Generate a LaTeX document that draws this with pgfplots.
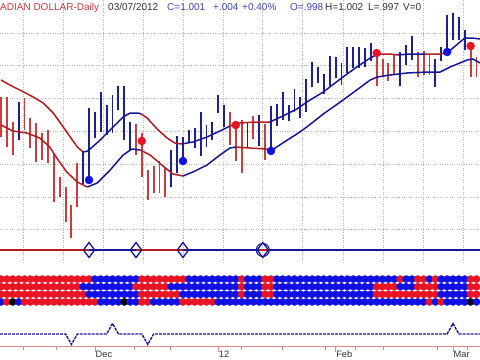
\documentclass[border=0pt]{standalone}
\usepackage{fontspec}
\setmainfont{Liberation Sans}
\usepackage{pgfplots}
\usepackage{pgfplotstable}
\pgfplotsset{compat=1.18}
\definecolor{barred}{RGB}{200,62,62}
\definecolor{barblue}{RGB}{32,32,140}
\definecolor{bandred}{RGB}{178,28,34}
\definecolor{bandblue}{RGB}{22,22,150}
\definecolor{dotred}{RGB}{232,20,36}
\definecolor{dotblue}{RGB}{16,16,226}
\definecolor{titlered}{RGB}{200,56,64}
\definecolor{infoblue}{RGB}{60,70,180}
\definecolor{infogray}{RGB}{50,50,60}
\definecolor{gridgray}{RGB}{185,185,185}
\definecolor{axispink}{RGB}{214,140,140}

\pgfplotstableread{
i a b c d
0 r r r b
1 r r r r
2 r r r k
3 r r r b
4 r r r r
5 r r r r
6 r r r r
7 r r r r
8 r r r r
9 r r r r
10 r r r r
11 r r r r
12 r r r r
13 r r r r
14 r b r r
15 r b b r
16 b b b r
17 b b b b
18 b b b b
19 b b b b
20 b b b b
21 b b b k
22 b b b b
23 b r b b
24 r r r r
25 r r r r
26 r r r b
27 r r r b
28 r r r b
29 r b r b
30 r b r b
31 r b b r
32 b b b r
33 b b b r
34 b b b r
35 b b b r
36 b b b r
37 b b b b
38 b b b b
39 b b b b
40 b b b b
41 r r r b
42 b b b b
43 b b b b
44 b b b b
45 r r r b
46 r r r b
47 b b b b
48 b b b b
49 b b b b
50 b b b b
51 b b b b
52 b b b b
53 b b b b
54 b b b b
55 b b b b
56 b b b b
57 b b b b
58 b b b b
59 b b b b
60 b b b b
61 b b b b
62 b b b b
63 b b b b
64 b r r b
65 b r r b
66 b r r b
67 b r r b
68 r b r b
69 b b r b
70 b b r b
71 r r r b
72 r r r b
73 b r r r
74 r r r b
75 b b b r
76 b b b b
77 b b b b
78 b b b b
79 b b b b
80 r r r k
81 r r r b
}\rows

\pgfplotsset{
  panel/.style={scale only axis, width=480bp, xmin=-0.17, xmax=81.6, anchor=south west,
    axis line style={draw=none}, tick style={draw=none}, xticklabels={}, yticklabels={},
    xtick={3.75,10.6,17.4,24.2,31,37.8,44.6,51.4,58.3,65.1,71.9,78.7},
    xmajorgrids, major grid style={gridgray, dotted, line width=0.7bp}},
  dotrow/.style={scatter, only marks, scatter src=explicit symbolic, mark size=3.6bp,
    scatter/classes={r={mark=*,draw=dotred,fill=dotred}, b={mark=*,draw=dotblue,fill=dotblue}, k={mark=*,draw=black,fill=black}}},
  hlbar/.style={#1, line width=1.9bp, unbounded coords=jump, mark=none},
}

\begin{document}
\begin{tikzpicture}
\useasboundingbox (0bp,0bp) rectangle (480bp,360bp);

% price panel
\begin{axis}[panel, at={(0bp,120bp)}, height=240bp, ymin=0.956, ymax=1.016,
  ytick={0.95855,0.96675,0.97495,0.98315,0.99135,0.99955,1.00775}, ymajorgrids]
% red high-low bars: (day, low) (day, high)
\addplot[hlbar=barred] coordinates {
(0,0.98175)(0,0.99175)(0,nan) (1,0.97925)(1,0.99175)(1,nan) (2,0.97725)(2,0.9855)(2,nan)
(4,0.9835)(4,0.9915)(4,nan) (5,0.979)(5,0.9865)(5,nan) (6,0.9755)(6,0.98525)(6,nan)
(7,0.976)(7,0.98275)(7,nan) (8,0.97525)(8,0.9835)(8,nan) (9,0.9655)(9,0.97775)(9,nan)
(10,0.96675)(10,0.97175)(10,nan) (11,0.9605)(11,0.96925)(11,nan) (12,0.9565)(12,0.96475)(12,nan)
(13,0.96425)(13,0.97525)(13,nan) (23,0.97725)(23,0.985)(23,nan) (24,0.97175)(24,0.98275)(24,nan)
(25,0.966)(25,0.9735)(25,nan) (26,0.96775)(26,0.9745)(26,nan) (27,0.96775)(27,0.97575)(27,nan)
(28,0.96675)(28,0.974)(28,nan) (39,0.97975)(39,0.988)(39,nan) (40,0.97575)(40,0.98575)(40,nan)
(41,0.97275)(41,0.986)(41,nan) (43,0.98125)(43,0.987)(43,nan) (45,0.976)(45,0.985)(45,nan)
(64,0.9945)(64,1.00225)(64,nan) (65,0.99675)(65,1.00125)(65,nan) (66,0.99575)(66,1.00025)(66,nan)
(67,0.99725)(67,1.00225)(67,nan) (71,0.99675)(71,1.003)(71,nan) (72,0.99725)(72,1.00325)(72,nan)
(73,0.99725)(73,1.0025)(73,nan) (80,0.99675)(80,1.00425)(80,nan) (81,0.99675)(81,1.00175)
};
% blue high-low bars
\addplot[hlbar=barblue] coordinates {
(3,0.981)(3,0.9905)(3,nan) (14,0.970)(14,0.978)(14,nan) (15,0.9705)(15,0.989)(15,nan)
(16,0.9815)(16,0.988)(16,nan) (17,0.983)(17,0.993)(17,nan) (18,0.98225)(18,0.98975)(18,nan)
(19,0.98275)(19,0.99225)(19,nan) (20,0.9885)(20,0.9945)(20,nan) (21,0.981)(21,0.9945)(21,nan)
(22,0.9785)(22,0.9855)(22,nan) (29,0.96925)(29,0.9785)(29,nan) (30,0.97275)(30,0.982)(30,nan)
(31,0.97475)(31,0.98175)(31,nan) (32,0.98025)(32,0.9835)(32,nan) (33,0.979)(33,0.984)(33,nan)
(34,0.977)(34,0.988)(34,nan) (35,0.97925)(35,0.98475)(35,nan) (36,0.981)(36,0.9855)(36,nan)
(37,0.98775)(37,0.99225)(37,nan) (38,0.98425)(38,0.98975)(38,nan) (42,0.979)(42,0.9855)(42,nan)
(44,0.9795)(44,0.98725)(44,nan) (46,0.97825)(46,0.9895)(46,nan) (47,0.9845)(47,0.990)(47,nan)
(48,0.986)(48,0.993)(48,nan) (49,0.98575)(49,0.98975)(49,nan) (50,0.988)(50,0.99375)(50,nan)
(51,0.9865)(51,0.99175)(51,nan) (52,0.988)(52,0.99625)(52,nan) (53,0.99425)(53,1.0005)(53,nan)
(54,0.99525)(54,0.99925)(54,nan) (55,0.9925)(55,0.9975)(55,nan) (56,0.9945)(56,1.002)(56,nan)
(57,0.9965)(57,1.00175)(57,nan) (58,0.99475)(58,1.00025)(58,nan) (59,0.99775)(59,1.00425)(59,nan)
(60,0.999)(60,1.00425)(60,nan) (61,0.999)(61,1.00425)(61,nan) (62,0.99925)(62,1.004)(62,nan)
(63,1.00075)(63,1.00525)(63,nan) (68,0.9945)(68,1.003)(68,nan) (69,0.99975)(69,1.00475)(69,nan)
(70,1.001)(70,1.007)(70,nan) (74,0.99425)(74,1.00125)(74,nan) (75,1.00075)(75,1.00425)(75,nan)
(76,1.00225)(76,1.01225)(76,nan) (77,1.006)(77,1.01275)(77,nan) (78,1.006)(78,1.01175)(78,nan)
(79,1.0035)(79,1.0085)
};
% upper band
\addplot[bandred, line width=1.5bp] coordinates {(0,0.996) (1.5,0.99475) (3.2,0.9935) (5.5,0.99175) (7.2,0.99025) (8.9,0.98775) (10.6,0.98425) (11.8,0.98175) (13,0.97925) (14,0.978)};
\addplot[bandblue, line width=1.5bp] coordinates {(14,0.978) (14.8,0.97825) (16.9,0.981) (19.1,0.98425) (20.8,0.98675) (22,0.98775) (23.3,0.98775) (23.9,0.9875)};
\addplot[bandred, line width=1.5bp] coordinates {(23.9,0.9875) (24.9,0.9865) (26.6,0.98375) (28.3,0.9815) (29.6,0.98025) (30.8,0.980)};
\addplot[bandblue, line width=1.5bp] coordinates {(30.8,0.980) (32.7,0.9805) (35.1,0.98175) (37.3,0.98325) (39,0.9845)};
\addplot[bandred, line width=1.5bp] coordinates {(39,0.9845) (40.7,0.98525) (43.3,0.9855) (45.8,0.9855)};
\addplot[bandblue, line width=1.5bp] coordinates {(45.8,0.9855) (48,0.987) (50.4,0.98875) (52.1,0.9905) (54.9,0.993) (57.8,0.99625) (60.6,0.99925) (62.9,1.0015) (64.2,1.0025)};
\addplot[bandred, line width=1.5bp] coordinates {(64.2,1.0025) (66.3,1.0025) (67.6,1.00225)};
\addplot[bandblue, line width=1.5bp] coordinates {(67.6,1.00225) (69.7,1.0025) (72.2,1.0025)};
\addplot[bandred, line width=1.5bp] coordinates {(72.2,1.0025) (74.8,1.0025) (76,1.00275)};
\addplot[bandblue, line width=1.5bp] coordinates {(76,1.00275) (79,1.0065) (80.2,1.0065) (81.6,1.00625)};
% lower band
\addplot[bandred, line width=1.5bp] coordinates {(0,0.98475) (2,0.98325) (4.4,0.98275) (6.6,0.9815) (8.3,0.97925) (9.5,0.9765) (11.2,0.973) (13,0.9705) (14.7,0.96925)};
\addplot[bandblue, line width=1.5bp] coordinates {(14.7,0.96925) (16.4,0.97025) (18.6,0.9735) (20.8,0.97725) (22.3,0.97875) (23.7,0.9785)};
\addplot[bandred, line width=1.5bp] coordinates {(23.7,0.9785) (25.4,0.97725) (27.6,0.9745) (29.3,0.9725) (31,0.972)};
\addplot[bandblue, line width=1.5bp] coordinates {(31,0.972) (32.7,0.973) (35.1,0.97475) (37.3,0.97725) (39,0.979) (40,0.97925)};
\addplot[bandred, line width=1.5bp] coordinates {(40,0.97925) (42.4,0.979) (45,0.97875) (46.2,0.9785)};
\addplot[bandblue, line width=1.5bp] coordinates {(46.2,0.9785) (48,0.98025) (50.4,0.9825) (52.1,0.98425) (54.9,0.9875) (57.8,0.9905) (60.6,0.9935) (62.9,0.996) (64.1,0.99675) (66.3,0.99725) (69.2,0.99775) (72.6,0.998) (74.8,0.998) (76.5,0.99925) (79.4,1.001) (80.4,1.00125) (81.6,1.00025)};
% signal dots
\addplot[only marks, mark=*, mark size=4bp, dotblue] coordinates {(15,0.971) (31,0.97575) (46,0.97825) (76,1.003)};
\addplot[only marks, mark=*, mark size=4bp, dotred] coordinates {(24,0.98075) (40,0.98475) (64,1.00275) (80,1.0045)};
\end{axis}

% signal line panel
\begin{axis}[panel, at={(0bp,98bp)}, height=24bp, ymin=0, ymax=1, ytick=\empty, clip=false]
\addplot[bandred, line width=1.3bp] coordinates {(-0.17,0.5) (15,0.5)};
\addplot[bandblue, line width=1.3bp] coordinates {(15,0.5) (23,0.5)};
\addplot[bandred, line width=1.3bp] coordinates {(23,0.5) (31,0.5)};
\addplot[bandblue, line width=1.3bp] coordinates {(31,0.5) (81.6,0.5)};
\addplot[bandred, line width=1.3bp] coordinates {(44,0.5) (45.3,0.5)};
\addplot[only marks, mark=diamond, mark size=7.5bp, mark options={draw=bandblue, line width=1.3bp}] coordinates {(15,0.5) (23,0.5) (31,0.5) (44.6,0.5)};
\addplot[only marks, mark=o, mark size=6.5bp, mark options={draw=bandblue, line width=1.1bp}] coordinates {(44.6,0.5)};
\end{axis}

% dot rows panel
\begin{axis}[panel, at={(0bp,54.3bp)}, height=30.4bp, ymin=0.5, ymax=4.5, ytick=\empty, clip=false]
\addplot[dotrow] table[x=i, y expr=4, meta=a] {\rows};
\addplot[dotrow] table[x=i, y expr=3, meta=b] {\rows};
\addplot[dotrow] table[x=i, y expr=2, meta=c] {\rows};
\addplot[dotrow] table[x=i, y expr=1, meta=d] {\rows};
\end{axis}

% spike line panel with date axis
\begin{axis}[scale only axis, width=480bp, height=25.2bp, at={(0bp,13.4bp)}, anchor=south west,
  xmin=-0.17, xmax=81.6, ymin=-1.2, ymax=1.2,
  axis x line*=bottom, axis y line=none,
  x axis line style={axispink, line width=1bp, -},
  xtick={16,37,57,77}, xticklabels={Dec,12,Feb,Mar},
  minor xtick={3.8,9.5,22.8,28.8,41,47.9,55.2,60.3,65.1,74.3,79.4},
  tick align=outside, major tick length=5bp, minor tick length=3bp,
  x tick style={axispink, line width=0.8bp},
  xticklabel style={anchor=north west, inner sep=0pt, xshift=0.5bp, yshift=1bp, font=\fontsize{9.3bp}{10bp}\selectfont, text=infogray},
  clip=false]
\addplot[bandblue, line width=1.4bp, dash pattern=on 3bp off 1bp] coordinates {(-0.17,0) (11,0) (12,-1) (13,0) (18,0) (19,1) (20,0) (24,0) (25,-1) (26,0) (76,0) (77,1) (78,0) (81.6,0)};
\end{axis}

% header text
\begin{scope}[every node/.style={anchor=base west, inner sep=0pt, font=\fontsize{10bp}{11bp}\selectfont}]
\node[text=titlered] at (0bp,349bp) {ADIAN DOLLAR-Daily};
\node[text=infogray] at (108bp,349bp) {03/07/2012};
\node[text=infoblue] at (167bp,349bp) {C=1.001};
\node[text=infoblue] at (213bp,349bp) {+.004};
\node[text=infoblue] at (242bp,349bp) {+0.40\%};
\node[text=infoblue] at (290bp,349bp) {O=.998};
\node[text=infogray] at (325bp,349bp) {H=1.002};
\node[text=infogray] at (368bp,349bp) {L=.997};
\node[text=infogray] at (403bp,349bp) {V=0};
\end{scope}
\end{tikzpicture}
\end{document}
